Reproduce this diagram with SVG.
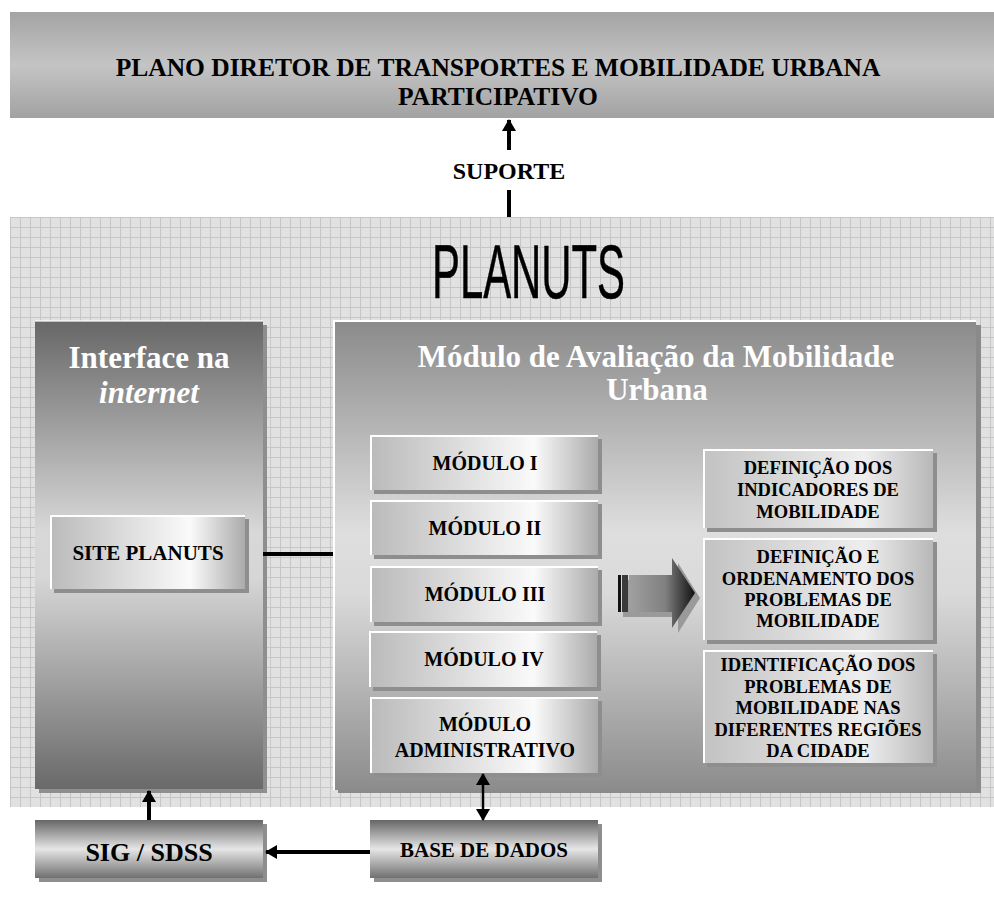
<svg xmlns="http://www.w3.org/2000/svg" width="994" height="906" viewBox="0 0 994 906">
<defs>
  <pattern id="grid" x="10" y="217" width="10" height="10" patternUnits="userSpaceOnUse">
    <rect width="10" height="10" fill="#e1e1e1"/>
    <path d="M0 0.5H10M0.5 0V10" stroke="#c6c6c6" stroke-width="1"/>
  </pattern>
  <linearGradient id="gTop" x1="0" y1="0" x2="0" y2="1">
    <stop offset="0" stop-color="#a4a4a4"/>
    <stop offset="0.5" stop-color="#c4c4c4"/>
    <stop offset="1" stop-color="#a2a2a2"/>
  </linearGradient>
  <linearGradient id="gIface" x1="0" y1="0" x2="0" y2="1">
    <stop offset="0" stop-color="#676767"/>
    <stop offset="0.45" stop-color="#d8d8d8"/>
    <stop offset="0.55" stop-color="#d6d6d6"/>
    <stop offset="1" stop-color="#696969"/>
  </linearGradient>
  <linearGradient id="gMod" x1="0" y1="0" x2="0" y2="1">
    <stop offset="0" stop-color="#8a8a8a"/>
    <stop offset="0.45" stop-color="#dedede"/>
    <stop offset="0.58" stop-color="#dadada"/>
    <stop offset="1" stop-color="#8c8c8c"/>
  </linearGradient>
  <linearGradient id="gBox" x1="0" y1="0" x2="1" y2="0">
    <stop offset="0" stop-color="#bababa"/>
    <stop offset="0.72" stop-color="#fafafa"/>
    <stop offset="1" stop-color="#ababab"/>
  </linearGradient>
  <linearGradient id="gRight" x1="0" y1="0" x2="1" y2="0">
    <stop offset="0" stop-color="#c2c2c2"/>
    <stop offset="0.7" stop-color="#eeeeee"/>
    <stop offset="1" stop-color="#b8b8b8"/>
  </linearGradient>
  <linearGradient id="gBottom" x1="0" y1="0" x2="0" y2="1">
    <stop offset="0" stop-color="#666666"/>
    <stop offset="0.5" stop-color="#e6e6e6"/>
    <stop offset="1" stop-color="#707070"/>
  </linearGradient>
  <linearGradient id="gArrow" x1="0" y1="0" x2="1" y2="0">
    <stop offset="0" stop-color="#a0a0a0"/>
    <stop offset="0.55" stop-color="#808080"/>
    <stop offset="1" stop-color="#111111"/>
  </linearGradient>
  <marker id="ah" viewBox="0 0 12 14" refX="11" refY="7" markerWidth="12" markerHeight="14" markerUnits="userSpaceOnUse" orient="auto-start-reverse">
    <path d="M0 0L12 7L0 14Z" fill="#000"/>
  </marker>
  <style>
    .t{font-family:"Liberation Serif","Times New Roman",serif;font-weight:bold;text-anchor:middle;fill:#000}
    .w{fill:#fff}
    .sh{fill:#8e8e8e}
    .hl{fill:none;stroke:#fff;stroke-width:2}
    .ln{stroke:#000;stroke-width:4;fill:none}
  </style>
</defs>

<!-- background grid panel -->
<rect x="10" y="217" width="984" height="590" fill="url(#grid)"/>

<g id="plano">
  <rect x="10" y="12" width="984" height="106" fill="url(#gTop)"/>
  <text class="t" x="498" y="76" font-size="25.5">PLANO DIRETOR DE TRANSPORTES E MOBILIDADE URBANA</text>
  <text class="t" x="498" y="105" font-size="25.5">PARTICIPATIVO</text>
</g>

<g id="planuts-title">
  <text x="432" y="298" font-family="Liberation Sans, Arial, sans-serif" font-size="76" textLength="193" lengthAdjust="spacingAndGlyphs" fill="#000" stroke="#000" stroke-width="0.5">PLANUTS</text>
</g>

<g id="interface">
  <rect class="sh" x="39" y="325" width="228" height="468"/>
  <rect x="35" y="321" width="228" height="468" fill="url(#gIface)"/>
  <path class="hl" d="M35 321H263" stroke-opacity="0.6"/>
  <text class="t w" x="149" y="368" font-size="31">Interface na</text>
  <text class="t w" x="149" y="403" font-size="31" font-style="italic">internet</text>
</g>

<g id="site-planuts">
  <rect class="sh" x="54" y="519" width="195" height="74"/>
  <rect x="50" y="515" width="195" height="74" fill="url(#gBox)"/>
  <path class="hl" d="M51 589V516H245"/>
  <text class="t" x="148" y="560" font-size="21">SITE PLANUTS</text>
</g>

<g id="modulo-avaliacao">
  <rect x="338" y="325" width="643" height="468" fill="#8a8a8a"/>
  <rect x="333" y="320" width="643" height="470" fill="url(#gMod)"/>
  <path class="hl" d="M334 790V321H976" stroke="#eeeeee"/>
  <text class="t w" x="656" y="367" font-size="31">Módulo de Avaliação da Mobilidade</text>
  <text class="t w" x="657" y="400" font-size="31">Urbana</text>
</g>

<g id="modulo-1">
  <rect class="sh" x="374" y="439" width="228" height="55"/>
  <rect x="370" y="435" width="228" height="55" fill="url(#gBox)"/>
  <path class="hl" d="M371 490V436H598"/>
  <text class="t" x="485" y="470" font-size="20">MÓDULO I</text>
</g>
<g id="modulo-2">
  <rect class="sh" x="374" y="504" width="228" height="55"/>
  <rect x="370" y="500" width="228" height="55" fill="url(#gBox)"/>
  <path class="hl" d="M371 555V501H598"/>
  <text class="t" x="485" y="535" font-size="20">MÓDULO II</text>
</g>
<g id="modulo-3">
  <rect class="sh" x="374" y="570" width="228" height="56"/>
  <rect x="370" y="566" width="228" height="56" fill="url(#gBox)"/>
  <path class="hl" d="M371 622V567H598"/>
  <text class="t" x="485" y="601" font-size="20">MÓDULO III</text>
</g>
<g id="modulo-4">
  <rect class="sh" x="373" y="635" width="228" height="56"/>
  <rect x="369" y="631" width="228" height="56" fill="url(#gBox)"/>
  <path class="hl" d="M370 687V632H597"/>
  <text class="t" x="484" y="666" font-size="20">MÓDULO IV</text>
</g>
<g id="modulo-admin">
  <rect class="sh" x="374" y="701" width="228" height="76"/>
  <rect x="370" y="697" width="228" height="76" fill="url(#gBox)"/>
  <path class="hl" d="M371 773V698H598"/>
  <text class="t" x="485" y="731" font-size="20">MÓDULO</text>
  <text class="t" x="485" y="757" font-size="20">ADMINISTRATIVO</text>
</g>

<g id="big-arrow">
  <path d="M623 580H678V563L700 598L678 633V617H623Z" fill="#9a9a9a"/>
  <rect x="618" y="575" width="3" height="37" fill="#111"/>
  <rect x="622" y="575" width="6" height="37" fill="#3a3a3a"/>
  <path d="M629 575H672V558L695 593L672 628V612H629Z" fill="url(#gArrow)"/>
</g>

<g id="def-indicadores">
  <rect class="sh" x="707" y="453" width="230" height="79"/>
  <rect x="703" y="449" width="230" height="79" fill="url(#gRight)"/>
  <path class="hl" d="M704 528V450H933"/>
  <text class="t" x="818" y="474" font-size="18.5">DEFINIÇÃO DOS</text>
  <text class="t" x="818" y="496" font-size="18.5">INDICADORES DE</text>
  <text class="t" x="818" y="518" font-size="18.5">MOBILIDADE</text>
</g>
<g id="def-ordenamento">
  <rect class="sh" x="707" y="542" width="230" height="102"/>
  <rect x="703" y="538" width="230" height="102" fill="url(#gRight)"/>
  <path class="hl" d="M704 640V539H933"/>
  <text class="t" x="818" y="563" font-size="18.5">DEFINIÇÃO E</text>
  <text class="t" x="818" y="585" font-size="18.5">ORDENAMENTO DOS</text>
  <text class="t" x="818" y="606" font-size="18.5">PROBLEMAS DE</text>
  <text class="t" x="818" y="627" font-size="18.5">MOBILIDADE</text>
</g>
<g id="identificacao">
  <rect class="sh" x="707" y="654" width="230" height="113"/>
  <rect x="703" y="650" width="230" height="113" fill="url(#gRight)"/>
  <path class="hl" d="M704 763V651H933"/>
  <text class="t" x="818" y="671" font-size="18.5">IDENTIFICAÇÃO DOS</text>
  <text class="t" x="818" y="693" font-size="18.5">PROBLEMAS DE</text>
  <text class="t" x="818" y="714" font-size="18.5">MOBILIDADE NAS</text>
  <text class="t" x="818" y="736" font-size="18.5">DIFERENTES REGIÕES</text>
  <text class="t" x="818" y="757" font-size="18.5">DA CIDADE</text>
</g>

<g id="sig-sdss">
  <rect class="sh" x="39" y="824" width="228" height="58"/>
  <rect x="35" y="820" width="228" height="58" fill="url(#gBottom)"/>
  <text class="t" x="149" y="861" font-size="26">SIG / SDSS</text>
</g>
<g id="base-dados">
  <rect class="sh" x="374" y="824" width="228" height="58"/>
  <rect x="370" y="820" width="228" height="58" fill="url(#gBottom)"/>
  <text class="t" x="484" y="857" font-size="21">BASE DE DADOS</text>
</g>

<g id="connectors">
  <line class="ln" x1="509" y1="150" x2="509" y2="120" marker-end="url(#ah)"/>
  <line class="ln" x1="509" y1="190" x2="509" y2="217"/>
  <text class="t" x="509" y="179" font-size="24">SUPORTE</text>
  <line class="ln" x1="263" y1="554" x2="333" y2="554"/>
  <line class="ln" x1="149" y1="820" x2="149" y2="791" marker-end="url(#ah)"/>
  <line x1="483" y1="820" x2="483" y2="774" stroke="#000" stroke-width="2.5" marker-start="url(#ah)" marker-end="url(#ah)"/>
  <line class="ln" x1="370" y1="852" x2="266" y2="852" marker-end="url(#ah)"/>
</g>
</svg>
